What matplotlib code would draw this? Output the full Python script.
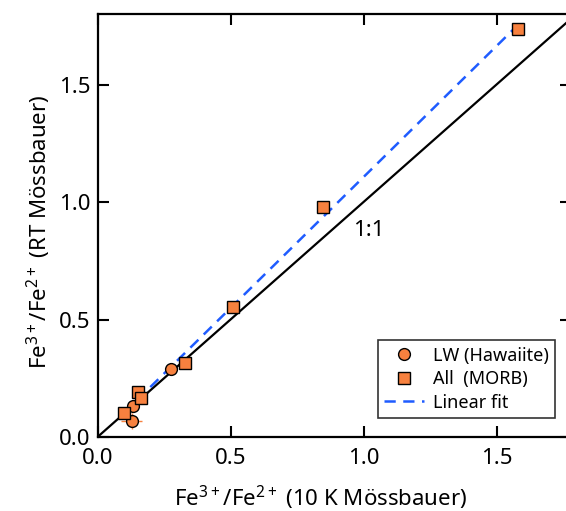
import numpy as np
import matplotlib
matplotlib.use("Agg")
import matplotlib.pyplot as plt

# Fe3+/Fe2+ ratios: 10 K Mössbauer (x) vs RT Mössbauer (y)
lw_x = [0.128, 0.135, 0.278]
lw_y = [0.068, 0.132, 0.289]
lw_xerr = [0.04, 0.0, 0.0]
lw_yerr = [0.035, 0.0, 0.0]

morb_x = [0.098, 0.154, 0.165, 0.327, 0.511, 0.846, 1.579]
morb_y = [0.102, 0.190, 0.166, 0.315, 0.552, 0.978, 1.738]

orange = "#F7813F"
blue = "#1F5CFF"

plt.rcParams["font.family"] = ["Noto Sans", "DejaVu Sans"]
plt.rcParams["mathtext.default"] = "regular"

fig = plt.figure(figsize=(5.66, 5.11), dpi=100)
ax = fig.add_axes([0.1723, 0.1448, 0.8366, 0.8278])

# 1:1 line
ax.plot([0, 2], [0, 2], color="black", lw=1.6, zorder=1)
ax.text(1.02, 0.88, "1:1", fontsize=16, ha="center", va="center")

# linear fit through the MORB points
k, b = np.polyfit(morb_x, morb_y, 1)
fx = np.array([min(morb_x), max(morb_x)])
ax.plot(fx, k * fx + b, ls=(0, (4.5, 3)), color=blue, lw=1.8, zorder=2, label="Linear fit")

ax.errorbar(lw_x, lw_y, xerr=lw_xerr, yerr=lw_yerr, fmt="none", ecolor=orange,
            elinewidth=1, zorder=2)
ax.plot(lw_x, lw_y, "o", ms=8.5, mfc=orange, mec="black", mew=1, zorder=3,
        label="LW (Hawaiite)")
ax.plot(morb_x, morb_y, "s", ms=8, mfc=orange, mec="black", mew=1, zorder=3,
        label="All  (MORB)")

ax.set_xlim(0, 1.78)
ax.set_ylim(0, 1.80)
ax.set_xticks([0.0, 0.5, 1.0, 1.5])
ax.set_yticks([0.0, 0.5, 1.0, 1.5])
ax.xaxis.set_major_formatter(matplotlib.ticker.FormatStrFormatter("%.1f"))
ax.yaxis.set_major_formatter(matplotlib.ticker.FormatStrFormatter("%.1f"))
ax.tick_params(direction="in", length=8, width=1.5, labelsize=16,
               top=True, right=True, pad=5)
ax.tick_params(axis="x", pad=8)
for s in ax.spines.values():
    s.set_linewidth(1.6)

ax.set_xlabel(r"Fe$^{3+}$/Fe$^{2+}$ (10 K Mössbauer)", fontsize=16)
ax.set_ylabel(r"Fe$^{3+}$/Fe$^{2+}$ (RT Mössbauer)", fontsize=16)
ax.xaxis.set_label_coords(0.472, -0.11)
ax.yaxis.set_label_coords(-0.095, 0.485)

h, l = ax.get_legend_handles_labels()
order = [1, 2, 0]
leg = ax.legend([h[i] for i in order], [l[i] for i in order], loc="lower right",
                bbox_to_anchor=(0.966, 0.045), fontsize=13, frameon=True,
                fancybox=False, edgecolor="black", handlelength=2.2,
                borderpad=0.35, borderaxespad=0, labelspacing=0.3,
                handletextpad=0.5)
leg.get_frame().set_linewidth(1.2)

fig.savefig("out.png", dpi=100)
